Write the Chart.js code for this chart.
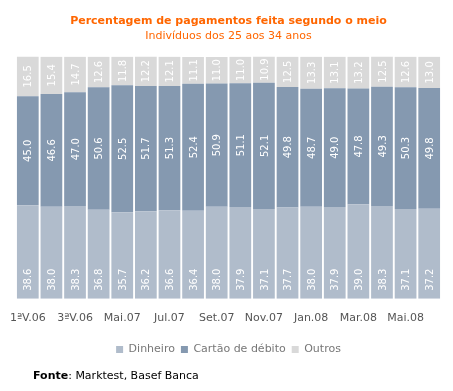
<!DOCTYPE html>
<html>
<head>
<meta charset="utf-8">
<style>
  html, body { margin: 0; padding: 0; background: #fff; }
  #wrap { width: 453px; height: 391px; }
</style>
<script src="https://cdn.jsdelivr.net/npm/chart.js@4"></script>
</head>
<body>
<div id="wrap"><canvas id="pagChart" width="453" height="391"></canvas></div>
<script>
const meses = ["1ªV.06", "2ªV.06", "3ªV.06", "Abr.07", "Mai.07", "Jun.07", "Jul.07", "Ago.07", "Set.07",
  "Out.07", "Nov.07", "Dez.07", "Jan.08", "Fev.08", "Mar.08", "Abr.08", "Mai.08", "Jun.08"];
const dinheiro = [38.6, 38.0, 38.3, 36.8, 35.7, 36.2, 36.6, 36.4, 38.0, 37.9, 37.1, 37.7, 38.0, 37.9, 39.0, 38.3, 37.1, 37.2];
const cartao = [45.0, 46.6, 47.0, 50.6, 52.5, 51.7, 51.3, 52.4, 50.9, 51.1, 52.1, 49.8, 48.7, 49.0, 47.8, 49.3, 50.3, 49.8];
const outros = [16.5, 15.4, 14.7, 12.6, 11.8, 12.2, 12.1, 11.1, 11.0, 11.0, 10.9, 12.5, 13.3, 13.1, 13.2, 12.5, 12.6, 13.0];

const fontFam = "'DejaVu Sans', Verdana, sans-serif";

// white rotated value labels inside the segments
const valueLabels = {
  id: "valueLabels",
  afterDatasetsDraw(chart) {
    const ctx = chart.ctx;
    ctx.save();
    ctx.fillStyle = "#fff";
    ctx.font = "10px " + fontFam;
    chart.data.datasets.forEach((ds, di) => {
      const meta = chart.getDatasetMeta(di);
      meta.data.forEach((bar, i) => {
        const txt = ds.data[i].toFixed(1);
        let y, align;
        if (di === 0) {
          y = bar.base - 8;
          align = "left";
        } else {
          y = (bar.y + bar.base) / 2;
          align = "center";
        }
        ctx.save();
        ctx.translate(bar.x, y);
        ctx.rotate(-Math.PI / 2);
        ctx.textAlign = align;
        ctx.textBaseline = "middle";
        ctx.fillText(txt, 0, 1);
        ctx.restore();
      });
    });
    ctx.restore();
  }
};

// source line at the bottom
const fonte = {
  id: "fonte",
  afterDraw(chart) {
    const ctx = chart.ctx;
    ctx.save();
    ctx.fillStyle = "#000";
    ctx.textBaseline = "middle";
    ctx.font = "bold 11px " + fontFam;
    ctx.fillText("Fonte", 33, 376);
    const w = ctx.measureText("Fonte").width;
    ctx.font = "11px " + fontFam;
    ctx.fillText(": Marktest, Basef Banca", 33 + w, 376);
    ctx.restore();
  }
};

new Chart(document.getElementById("pagChart"), {
  type: "bar",
  data: {
    labels: meses,
    datasets: [{
      label: "Dinheiro",
      data: dinheiro,
      backgroundColor: "#B0BCCB"
    }, {
      label: "Cartão de débito",
      data: cartao,
      backgroundColor: "#8599B0"
    }, {
      label: "Outros",
      data: outros,
      backgroundColor: "#D9D9D9"
    }]
  },
  options: {
    responsive: false,
    animation: false,
    layout: { padding: { left: 16, right: 12, top: 0, bottom: 26 } },
    datasets: { bar: { barPercentage: 0.92, categoryPercentage: 1 } },
    scales: {
      x: {
        stacked: true,
        grid: { display: false, drawTicks: false },
        border: { display: false },
        afterFit: (scale) => { scale.paddingLeft = 0; scale.paddingRight = 0; },
        ticks: {
          autoSkip: false,
          maxRotation: 0,
          color: "#555",
          font: { family: fontFam, size: 11 },
          padding: 13,
          callback: function (v, i) { return i % 2 === 0 ? this.getLabelForValue(v) : ""; }
        }
      },
      y: {
        stacked: true,
        display: false,
        min: 0,
        max: 100.1
      }
    },
    plugins: {
      title: {
        display: true,
        text: "Percentagem de pagamentos feita segundo o meio",
        color: "#FF6600",
        font: { family: fontFam, size: 11, weight: "bold" },
        padding: { top: 15, bottom: 0 }
      },
      subtitle: {
        display: true,
        text: "Indivíduos dos 25 aos 34 anos",
        color: "#FF6600",
        font: { family: fontFam, size: 11 },
        padding: { top: 1, bottom: 14 }
      },
      legend: {
        position: "bottom",
        labels: {
          boxWidth: 7,
          boxHeight: 7,
          color: "#777",
          font: { family: fontFam, size: 11 },
          padding: 6
        }
      },
      tooltip: { enabled: false }
    }
  },
  plugins: [valueLabels, fonte]
});
</script>
</body>
</html>
